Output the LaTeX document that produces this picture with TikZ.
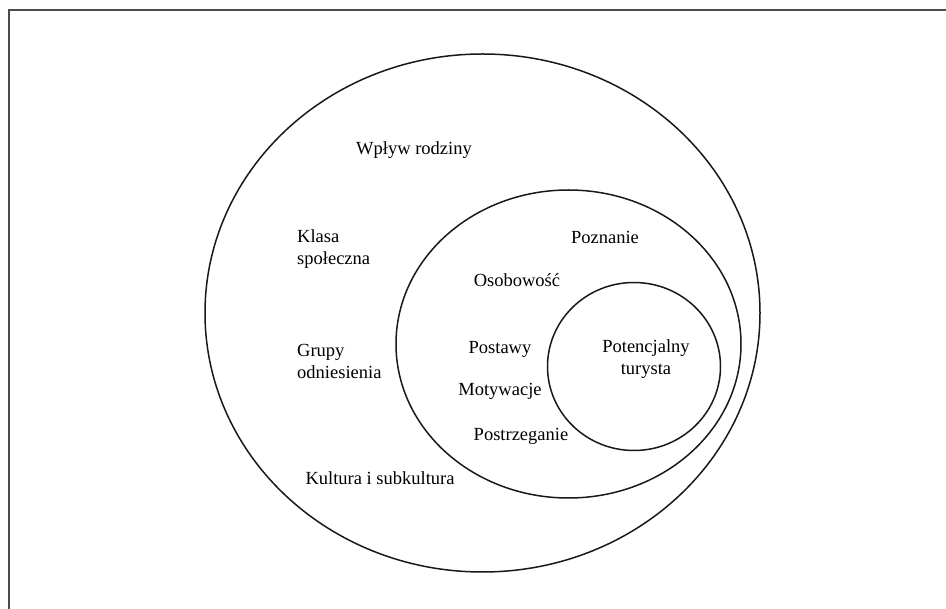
\documentclass[tikz,border=0pt]{standalone}
\usepackage{fontspec}
\setmainfont{Liberation Serif}
\usetikzlibrary{shapes.geometric}
\begin{document}
\begin{tikzpicture}[x=1pt,y=-1pt,
  lbl/.style={font=\fontsize{18.5}{22}\selectfont, inner sep=0pt, align=center},
  lbll/.style={lbl, align=left, anchor=west},
  ring/.style={draw=black!90, line width=1.5pt, ellipse, inner sep=0pt}]
  \useasboundingbox (0,0) rectangle (946,609);
  % frame: top and left edges
  \draw[line width=2pt, draw=black!70] (946,10) -- (9,10) -- (9,609);
  % nested spheres of influence
  \node[ring, minimum width=555, minimum height=518] (outer) at (482.5,313) {};
  \node[ring, minimum width=345, minimum height=308] (middle) at (568.5,344) {};
  \node[ring, minimum width=173, minimum height=168] (inner) at (634,366.5) {};
  % labels
  \node[lbl] (wplyw) at (414,150) {Wpływ rodziny};
  \node[lbll] (klasa) at (297,249) {Klasa\\społeczna};
  \node[lbll] (grupy) at (297,361) {Grupy\\odniesienia};
  \node[lbl] (kultura) at (380,478) {Kultura i subkultura};
  \node[lbl] (poznanie) at (605,237) {Poznanie};
  \node[lbl] (osob) at (517,280) {Osobowość};
  \node[lbl] (postawy) at (500,349) {Postawy};
  \node[lbl] (motyw) at (500,391) {Motywacje};
  \node[lbl] (postrz) at (521,436) {Postrzeganie};
  \node[lbl] (turysta) at (646,359) {Potencjalny\\turysta};
\end{tikzpicture}
\end{document}
